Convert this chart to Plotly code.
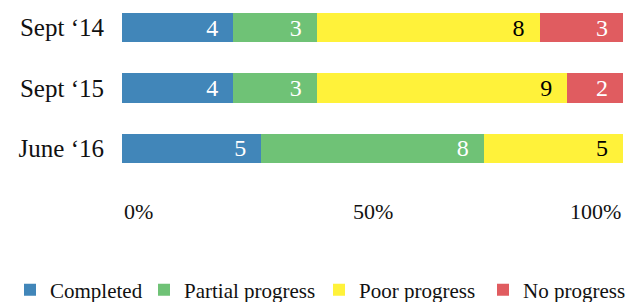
import plotly.graph_objects as go

categories = ["Sept ‘14", "Sept ‘15", "June ‘16"]
series_names = ["Completed", "Partial progress", "Poor progress", "No progress"]
completed = [4, 4, 5]
partial = [3, 3, 8]
poor = [8, 9, 5]
no_progress = [3, 2, None]
tick_vals = [0, 50, 100]
tick_labels = ["0%", "50%", "100%"]

colors = ["#4186b9", "#6fc276", "#fff23a", "#e05c60"]
text_colors = ["white", "white", "black", "white"]
legend_ids = ["legend", "legend2", "legend3", "legend4"]
legend_x_px = [10, 144, 319, 483]
FONT = "Liberation Serif"
W, H = 635, 302

fig = go.Figure()
for name, vals, col, tcol, lid in zip(series_names, [completed, partial, poor, no_progress],
                                       colors, text_colors, legend_ids):
    fig.add_trace(go.Bar(
        y=categories, x=vals, name=name, orientation="h",
        marker=dict(color=col, line=dict(width=0)),
        text=[("" if v is None else str(v) + "\u00a0\u00a0") for v in vals],
        textposition="inside", insidetextanchor="end", textangle=0,
        textfont=dict(color=tcol, size=24, family=FONT),
        constraintext="none",
        hoverinfo="skip",
        legend=lid,
    ))

anchors = ["left", "center", "right"]
for v, lab, anc in zip(tick_vals, tick_labels, anchors):
    fig.add_annotation(x=v, xref="x", y=0, yref="paper", yanchor="middle", yshift=-16,
                       xanchor=anc, text=lab, showarrow=False,
                       font=dict(family=FONT, size=22, color="#111"))

legend_common = dict(orientation="h", xref="container", yref="container", y=1 - 290 / H,
                     xanchor="left", yanchor="middle",
                     font=dict(size=21, family=FONT, color="#111"),
                     bgcolor="rgba(0,0,0,0)", borderwidth=0)
legends = {}
for lid, px in zip(legend_ids, legend_x_px):
    legends[lid] = dict(legend_common, x=px / W)

fig.update_layout(
    barmode="stack", barnorm="percent", bargap=0.52,
    width=W, height=H,
    margin=dict(l=122, r=12, t=5, b=107),
    plot_bgcolor="white", paper_bgcolor="white",
    font=dict(family=FONT, color="#111"),
    xaxis=dict(range=[0, 100], showticklabels=False, showgrid=False, zeroline=False, fixedrange=True),
    yaxis=dict(autorange=False, range=[2.769, -0.372], showgrid=False, zeroline=False,
               tickfont=dict(size=25, family=FONT, color="#111"), ticklabelstandoff=17, ticks=""),
    showlegend=True,
    **legends,
)

fig.write_html("out.html", config={"displayModeBar": False})
with open("out.html", "r", encoding="utf-8") as f:
    html = f.read()
html = html.replace("<body>", '<body style="margin:0;padding:0;overflow:hidden">', 1)
with open("out.html", "w", encoding="utf-8") as f:
    f.write(html)
